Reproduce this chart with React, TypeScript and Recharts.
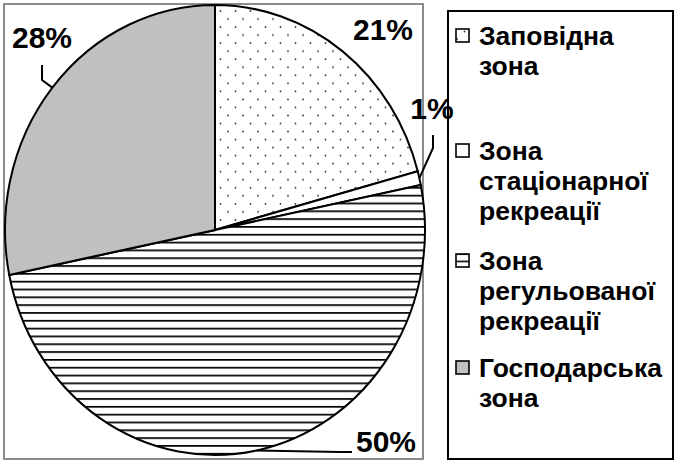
import { PieChart, Pie, Cell, Legend } from 'recharts'

// zone shares, % of the park area
const zones = ['Заповідна зона', 'Зона стаціонарної рекреації', 'Зона регульованої рекреації', 'Господарська зона']
const shares = [20.8, 1, 50, 28.2]
const fills = ['url(#dots)', '#ffffff', 'url(#stripes)', '#c0c0c0']

const data = zones.map((name, i) => ({ name, value: shares[i] }))

const FONT = '"Liberation Sans", Arial, sans-serif'
const CX = 215
const CY = 230
const R = 210
const SY = 225 / 210 // the pie is drawn a bit taller than wide

// label placement relative to the pie centre (moved by hand, like in the original)
const LABELS = [
  { tx: 168, ty: -201, leader: null },
  { tx: 217, ty: -122, leader: [[218, -82], [218, -95]] },
  { tx: 171, ty: 211, leader: [[125, 222], [137, 222]] },
  { tx: -173, ty: -193, leader: [[-173, -150], [-173, -165]] },
]
const LEGEND_GAPS = [9, 55, 20, 17]

const stretch = `translate(${CX} ${CY}) scale(1 ${SY}) translate(${-CX} ${-CY})`

function renderLabel(props: any) {
  const { cx, cy, midAngle, outerRadius, percent, index } = props
  const pos = LABELS[index]
  const rad = (midAngle * Math.PI) / 180
  const sx = cx + outerRadius * Math.cos(rad)
  const sy = cy - outerRadius * SY * Math.sin(rad)
  return (
    <g key={`lbl-${index}`}>
      {pos.leader && (
        <polyline
          points={`${sx},${sy} ${cx + pos.leader[0][0]},${cy + pos.leader[0][1]} ${cx + pos.leader[1][0]},${cy + pos.leader[1][1]}`}
          fill="none"
          stroke="#000"
          strokeWidth={2}
        />
      )}
      <text
        x={cx + pos.tx}
        y={cy + pos.ty}
        textAnchor="middle"
        dominantBaseline="central"
        fontFamily={FONT}
        fontWeight="bold"
        fontSize={30}
        fill="#000"
      >
        {`${Math.round(percent * 100)}%`}
      </text>
    </g>
  )
}

// legend keeps the data order (recharts would sort it by name)
function renderLegend() {
  return (
    <div style={{ fontFamily: FONT, fontWeight: 'bold', fontSize: 26.5, lineHeight: '30px', color: '#000' }}>
      {zones.map((name, i) => (
        <div key={`leg-${i}`} style={{ display: 'flex', alignItems: 'flex-start', marginTop: LEGEND_GAPS[i] }}>
          <svg width={25} height={30} style={{ flex: 'none', marginLeft: 5 }}>
            <rect x={2} y={8} width={13} height={13} fill={fills[i]} stroke="#000" strokeWidth={1.6} />
          </svg>
          <span style={{ width: 192 }}>{name}</span>
        </div>
      ))}
    </div>
  )
}

export default function App() {
  return (
    <div style={{ position: 'absolute', left: 0, top: 0, width: 675, height: 461, background: '#fff' }}>
      <div
        style={{
          position: 'absolute',
          left: 3,
          top: 3,
          width: 421,
          height: 457,
          border: '2px solid #8c8c8c',
          boxSizing: 'border-box',
        }}
      />
      <PieChart width={675} height={461} margin={{ top: 0, right: 0, bottom: 0, left: 0 }}>
        <defs>
          <pattern id="dots" patternUnits="userSpaceOnUse" width={15} height={15}>
            <rect width={15} height={15} fill="#fff" />
            <circle cx={3} cy={3} r={0.9} fill="#333" />
            <circle cx={10.5} cy={10.5} r={0.9} fill="#333" />
          </pattern>
          <pattern id="stripes" patternUnits="userSpaceOnUse" width={8} height={7.3}>
            <rect width={8} height={7.3} fill="#fff" />
            <rect y={0} width={8} height={1.6} fill="#000" />
          </pattern>
        </defs>
        <Pie
          data={data}
          dataKey="value"
          nameKey="name"
          cx={CX}
          cy={CY}
          outerRadius={R}
          startAngle={90}
          endAngle={-270}
          stroke="#000"
          strokeWidth={2}
          label={renderLabel}
          labelLine={false}
          isAnimationActive={false}
        >
          {data.map((d, i) => (
            <Cell key={`cell-${i}`} fill={fills[i]} transform={stretch} />
          ))}
        </Pie>
        <Legend
          content={renderLegend}
          wrapperStyle={{
            position: 'absolute',
            left: 447,
            top: 10,
            width: 227,
            height: 450,
            border: '2px solid #000',
            boxSizing: 'border-box',
            background: 'transparent',
          }}
        />
      </PieChart>
    </div>
  )
}
